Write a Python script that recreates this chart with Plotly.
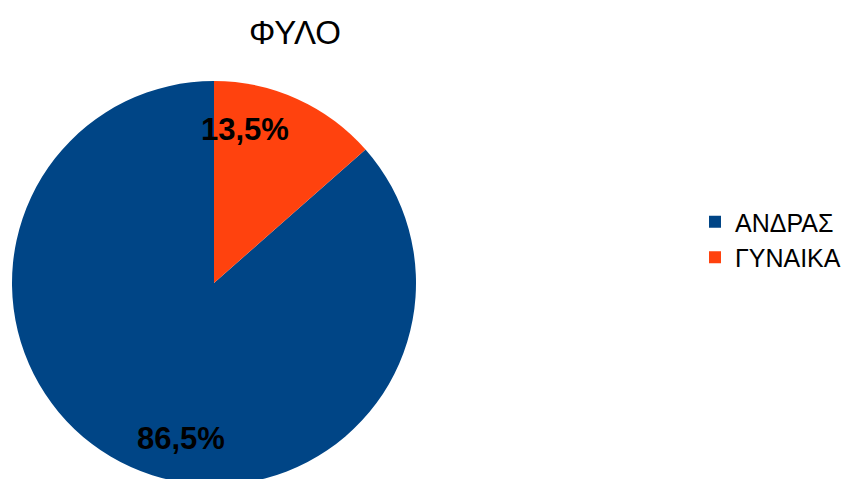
import plotly.graph_objects as go

labels = ["ΑΝΔΡΑΣ", "ΓΥΝΑΙΚΑ"]
values = [86.5, 13.5]
colors = ["#004586", "#ff420e"]
title_text = "ΦΥΛΟ"

W, H = 845, 490
FONT = "Liberation Sans, Arial, sans-serif"

cx, cy, r = 214, 283, 202
total = sum(values)

fig = go.Figure(go.Pie(
    labels=labels,
    values=values,
    marker=dict(colors=colors, line=dict(width=0)),
    sort=False,
    direction="clockwise",
    rotation=360 * values[1] / total,
    textinfo="none",
    hoverinfo="label+percent",
    domain=dict(x=[(cx - r) / W, (cx + r) / W],
                y=[1 - (cy + r) / H, 1 - (cy - r) / H]),
))

def fmt(v):
    return f"{100 * v / total:.1f}".replace(".", ",") + "%"

label_pos = [(181, 438), (245, 129)]
for v, (px, py) in zip(values, label_pos):
    fig.add_annotation(
        x=px / W, y=1 - py / H, xref="paper", yref="paper",
        text=f"<b>{fmt(v)}</b>", showarrow=False,
        xanchor="center", yanchor="middle",
        font=dict(family=FONT, size=31, color="#000000"),
    )

fig.update_layout(
    width=W, height=H,
    margin=dict(l=0, r=0, t=0, b=0, autoexpand=False),
    paper_bgcolor="white",
    plot_bgcolor="white",
    title=dict(text=title_text, x=295 / W, xanchor="center",
               y=1 - 32 / H, yanchor="middle", yref="container",
               font=dict(family=FONT, size=33, color="#000000")),
    showlegend=True,
    legend=dict(x=695 / W, xanchor="left", y=1 - 199 / H, yanchor="top",
                font=dict(family=FONT, size=25, color="#000000"),
                bgcolor="rgba(0,0,0,0)"),
    font=dict(family=FONT),
)

fig.write_html(
    "out.html",
    config={"displayModeBar": False},
    post_script="document.documentElement.style.overflow='hidden';document.body.style.overflow='hidden';document.body.style.margin='0';",
)
